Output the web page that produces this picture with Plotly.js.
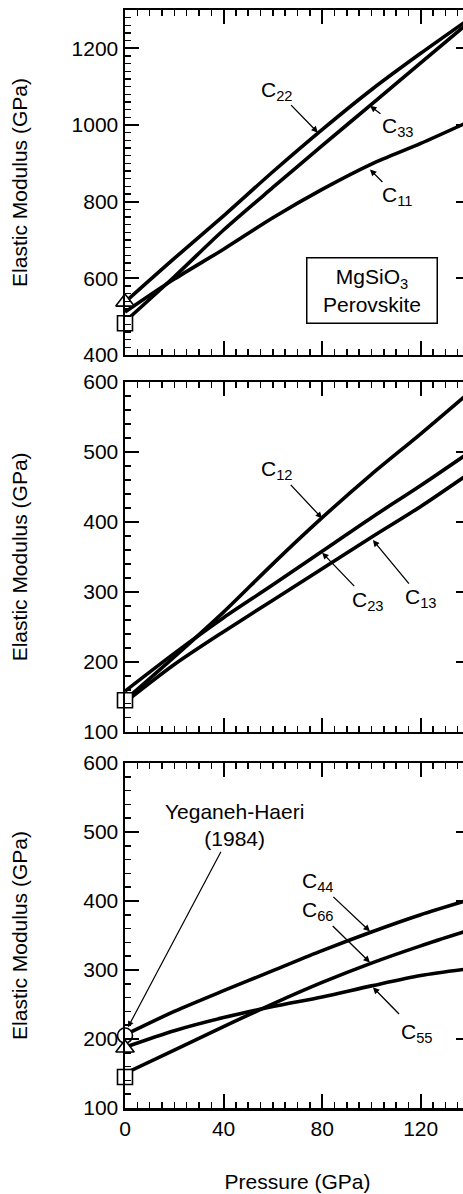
<!DOCTYPE html>
<html>
<head>
<meta charset="utf-8">
<script src="https://cdn.plot.ly/plotly-3.0.1.min.js"></script>
<style>
html, body { margin:0; padding:0; overflow:hidden; background:#fff; }
#chart { width:472px; height:1194px; }
</style>
</head>
<body>
<div id="chart"></div>
<script>
// ---- Data ----
const pressure = [0, 20, 40, 60, 80, 100, 120, 140];

// Panel 1: longitudinal moduli
const c11 = [512, 598, 676, 758, 832, 898, 952, 1010];
const c22 = [538, 652, 763, 878, 988, 1092, 1187, 1278];
const c33 = [487, 604, 726, 837, 946, 1054, 1162, 1270];

// Panel 2: off-diagonal moduli
const c12 = [145, 207, 271, 340, 406, 468, 526, 586];
const c23 = [158, 212, 263, 310, 358, 406, 452, 500];
const c13 = [142, 196, 243, 288, 333, 378, 422, 470];

// Panel 3: shear moduli
const c44 = [206, 240, 270, 299, 328, 355, 380, 402];
const c66 = [150, 184, 218, 251, 282, 310, 335, 358];
const c55 = [188, 212, 231, 247, 261, 277, 292, 302];

// Experimental values at zero pressure (Yeganeh-Haeri, 1984)
const expP = [0];
const exp1Triangle = [538];
const exp1Square = [483];
const exp2Square = [145];
const exp3Circle = [205];
const exp3Triangle = [187];
const exp3Square = [145];

// ---- Styles ----
const FONT = 'Liberation Sans, Arial, Helvetica, sans-serif';
const lineStyle = {color:'#000', width:3.6, shape:'spline', smoothing:0.8};

function lineTrace(y, xa, ya) {
  return {x: pressure, y: y, xaxis: xa, yaxis: ya, mode:'lines', line: lineStyle,
          showlegend:false, hoverinfo:'skip'};
}
function markTrace(y, symbol, size, xa, ya) {
  return {x: expP, y: y, xaxis: xa, yaxis: ya, mode:'markers', cliponaxis:false,
          marker:{symbol:symbol, size:size, color:'#fff', line:{color:'#000', width:1.6}},
          showlegend:false, hoverinfo:'skip'};
}

const traces = [
  lineTrace(c22, 'x', 'y'), lineTrace(c33, 'x', 'y'), lineTrace(c11, 'x', 'y'),
  lineTrace(c12, 'x2', 'y2'), lineTrace(c23, 'x2', 'y2'), lineTrace(c13, 'x2', 'y2'),
  lineTrace(c44, 'x3', 'y3'), lineTrace(c66, 'x3', 'y3'), lineTrace(c55, 'x3', 'y3'),
  markTrace(exp1Triangle, 'triangle-up', 16, 'x', 'y'),
  markTrace(exp1Square, 'square', 15, 'x', 'y'),
  markTrace(exp2Square, 'square', 15, 'x2', 'y2'),
  markTrace(exp3Circle, 'circle', 15, 'x3', 'y3'),
  markTrace(exp3Triangle, 'triangle-up', 16, 'x3', 'y3'),
  markTrace(exp3Square, 'square', 15, 'x3', 'y3')
];

function xAxis(anchor, labels) {
  const a = {
    anchor: anchor, range:[0,140], tickmode:'linear', tick0:0, dtick:40,
    ticks:'inside', ticklen:14, tickwidth:2, tickcolor:'#000',
    minor:{dtick:5, ticks:'inside', ticklen:6, tickwidth:1.5, tickcolor:'#000', showgrid:false},
    showline:true, linewidth:2.5, linecolor:'#000', mirror:'ticks',
    showgrid:false, zeroline:false, showticklabels: labels,
    tickfont:{family:FONT, size:21, color:'#000'}
  };
  if (labels) a.title = {text:'Pressure (GPa)', font:{family:FONT, size:21, color:'#000'}, standoff:36};
  return a;
}
function yAxis(domain, range, dtick, anchor, standoff) {
  return {
    anchor: anchor, domain: domain, range: range, tickmode:'linear', dtick: dtick, tick0: range[0],
    ticks:'inside', ticklen:14, tickwidth:2, tickcolor:'#000',
    minor:{dtick:20, ticks:'inside', ticklen:6, tickwidth:1.5, tickcolor:'#000', showgrid:false},
    showline:true, linewidth:2.5, linecolor:'#000', mirror:'ticks',
    showgrid:false, zeroline:false,
    tickfont:{family:FONT, size:21, color:'#000'},
    title:{text:'Elastic Modulus (GPa)', font:{family:FONT, size:21, color:'#000'}, standoff: standoff}
  };
}

function lab(text, x, y, ax, ay, xr, yr) {
  return {text:text, x:x, y:y, xref:xr, yref:yr, ax:ax, ay:ay, axref:'pixel', ayref:'pixel',
          showarrow:true, arrowhead:2, arrowsize:1, arrowwidth:1.3, arrowcolor:'#000',
          font:{family:FONT, size:21, color:'#000'}};
}

const annotations = [
  lab('C<sub>22</sub>', 78.3, 980, -41, -42, 'x', 'y'),
  lab('C<sub>33</sub>', 99.4, 1050, 28, 21, 'x', 'y'),
  lab('C<sub>11</sub>', 99.4, 884, 27, 27, 'x', 'y'),
  {text:'MgSiO<sub>3</sub><br>Perovskite', x:100.3, y:569, xref:'x', yref:'y', showarrow:false,
   bordercolor:'#000', borderwidth:1.5, borderpad:3, bgcolor:'#fff', width:123, height:58,
   font:{family:FONT, size:21, color:'#000'}},
  lab('C<sub>12</sub>', 80, 405, -45, -48, 'x2', 'y2'),
  lab('C<sub>23</sub>', 80, 356, 46, 48, 'x2', 'y2'),
  lab('C<sub>13</sub>', 100.6, 374, 48, 58, 'x2', 'y2'),
  lab('C<sub>44</sub>', 99.4, 356, -52, -49, 'x3', 'y3'),
  lab('C<sub>66</sub>', 99.4, 311, -52, -51, 'x3', 'y3'),
  // C55: arrow drawn separately (tail given in data units), label placed beside it
  {text:'', x:100.6, y:275, xref:'x3', yref:'y3', ax:111.8, ay:234, axref:'x3', ayref:'y3',
   showarrow:true, arrowhead:2, arrowsize:1, arrowwidth:1.3, arrowcolor:'#000'},
  {text:'C<sub>55</sub>', x:118.3, y:208, xref:'x3', yref:'y3', showarrow:false,
   font:{family:FONT, size:21, color:'#000'}},
  {text:'Yeganeh-Haeri<br>(1984)', x:1.2, y:217, xref:'x3', yref:'y3', ax:107, ay:-202,
   axref:'pixel', ayref:'pixel', showarrow:true, arrowhead:2, arrowsize:1, arrowwidth:1.2,
   arrowcolor:'#000', font:{family:FONT, size:21, color:'#000'}}
];

const layout = {
  width:472, height:1194,
  margin:{l:125, r:2, t:10, b:86},
  paper_bgcolor:'#fff', plot_bgcolor:'#fff',
  font:{family:FONT, size:21, color:'#000'},
  showlegend:false,
  xaxis: xAxis('y', false),
  xaxis2: xAxis('y2', false),
  xaxis3: xAxis('y3', true),
  yaxis: yAxis([0.6858, 1], [400, 1300], 200, 'x', 38),
  yaxis2: yAxis([0.3427, 0.6612], [100, 600], 100, 'x2', 50),
  yaxis3: yAxis([0, 0.3142], [100, 600], 100, 'x3', 50),
  annotations: annotations
};

Plotly.newPlot('chart', traces, layout, {staticPlot:true, displayModeBar:false});
</script>
</body>
</html>
